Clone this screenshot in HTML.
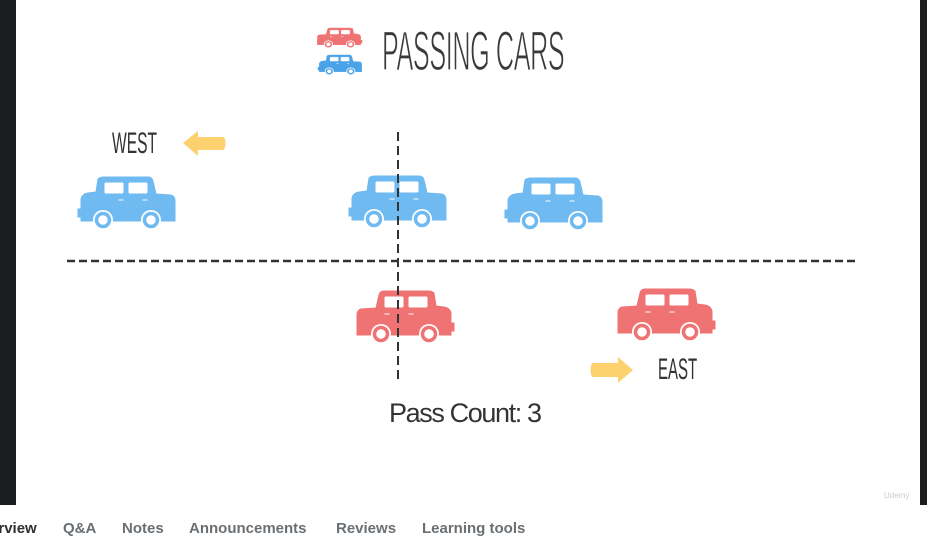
<!DOCTYPE html>
<html><head><meta charset="utf-8"><style>
html,body{margin:0;padding:0;width:927px;height:533px;overflow:hidden;background:#fff;font-family:"Liberation Sans",sans-serif}
#stage{position:absolute;left:0;top:0;width:927px;height:505px;background:#1c1d1f}
#slide{position:absolute;left:16px;top:0;width:904px;height:505px;background:#fff}
.tab{position:absolute;top:520px;font-size:15px;font-weight:bold;color:#6a6f73;white-space:nowrap}
</style></head><body>
<div id="stage"></div>
<div id="slide"></div>
<svg width="927" height="505" style="position:absolute;left:0;top:0">
<defs>
<g id="car">
 <path d="M20,2 Q22,0 26,0 L70,0 Q74,0 75,4 L78,17 L93,18 Q97,19 97,24 L97,44 L3,44 L3,22 Q4,17 10,16 L18,15 Z"/>
 <rect x="0" y="32" width="5" height="8"/>
 <rect x="26" y="5" width="20" height="12" fill="#fff" rx="2"/>
 <rect x="50" y="5" width="20" height="12" fill="#fff" rx="2"/>
 <rect x="40" y="22" width="6" height="2" fill="#fff"/>
 <rect x="64" y="22" width="6" height="2" fill="#fff"/>
 <circle cx="25" cy="43" r="10" fill="#fff" stroke="none"/>
 <circle cx="73" cy="43" r="10" fill="#fff" stroke="none"/>
 <circle cx="25" cy="43" r="6.5" fill="#fff" stroke-width="3.5"/>
 <circle cx="73" cy="43" r="6.5" fill="#fff" stroke-width="3.5"/>
</g>
</defs>
<g fill="#6fbaf0" stroke="#6fbaf0">
 <use href="#car" transform="translate(78,177)"/>
 <use href="#car" transform="translate(349,176)"/>
 <use href="#car" transform="translate(505,178)"/>
</g>
<g fill="#f07374" stroke="#f07374">
 <use href="#car" transform="translate(454,291) scale(-1,1)"/>
 <use href="#car" transform="translate(715,289) scale(-1,1)"/>
</g>
<g>
 <g fill="#f07374" stroke="#f07374" transform="translate(362,28) scale(-0.46,0.38)"><use href="#car"/></g>
 <g fill="#4aa3e8" stroke="#4aa3e8" transform="translate(318,55) scale(0.45,0.38)"><use href="#car"/></g>
</g>
<line x1="67" y1="261" x2="855" y2="261" stroke="#333" stroke-width="2.5" stroke-dasharray="8,4"/>
<line x1="398" y1="132" x2="398" y2="380" stroke="#333" stroke-width="2" stroke-dasharray="9,5"/>
<path d="M183,143 L198,131 L198,137 L224,137 Q227,143 224,150 L198,150 L198,156 Z" fill="#fdd26e"/>
<path d="M633,370 L618,357 L618,363 L592,363 Q589,370 592,377 L618,377 L618,383 Z" fill="#fdd26e"/>
<text x="0" y="0" transform="translate(382,70) scale(0.45,1)" font-size="56" fill="#3a3a3a" stroke="#fff" stroke-width="1.2" paint-order="normal" font-family="Liberation Sans, sans-serif" textLength="406">PASSING CARS</text>
<text transform="translate(112,153) scale(0.52,1)" font-size="30" fill="#333">WEST</text>
<text transform="translate(658,379) scale(0.5,1)" font-size="30" fill="#333">EAST</text>
<text x="389" y="422" font-size="27" fill="#333" textLength="153">Pass Count: 3</text>
<text x="884" y="498" font-size="8" fill="#ccc">Udemy</text>
</svg>
<div class="tab" style="left:-30px;color:#2d2f31">Overview</div>
<div class="tab" style="left:63px">Q&amp;A</div>
<div class="tab" style="left:122px">Notes</div>
<div class="tab" style="left:189px">Announcements</div>
<div class="tab" style="left:336px">Reviews</div>
<div class="tab" style="left:422px">Learning tools</div>
</body></html>
